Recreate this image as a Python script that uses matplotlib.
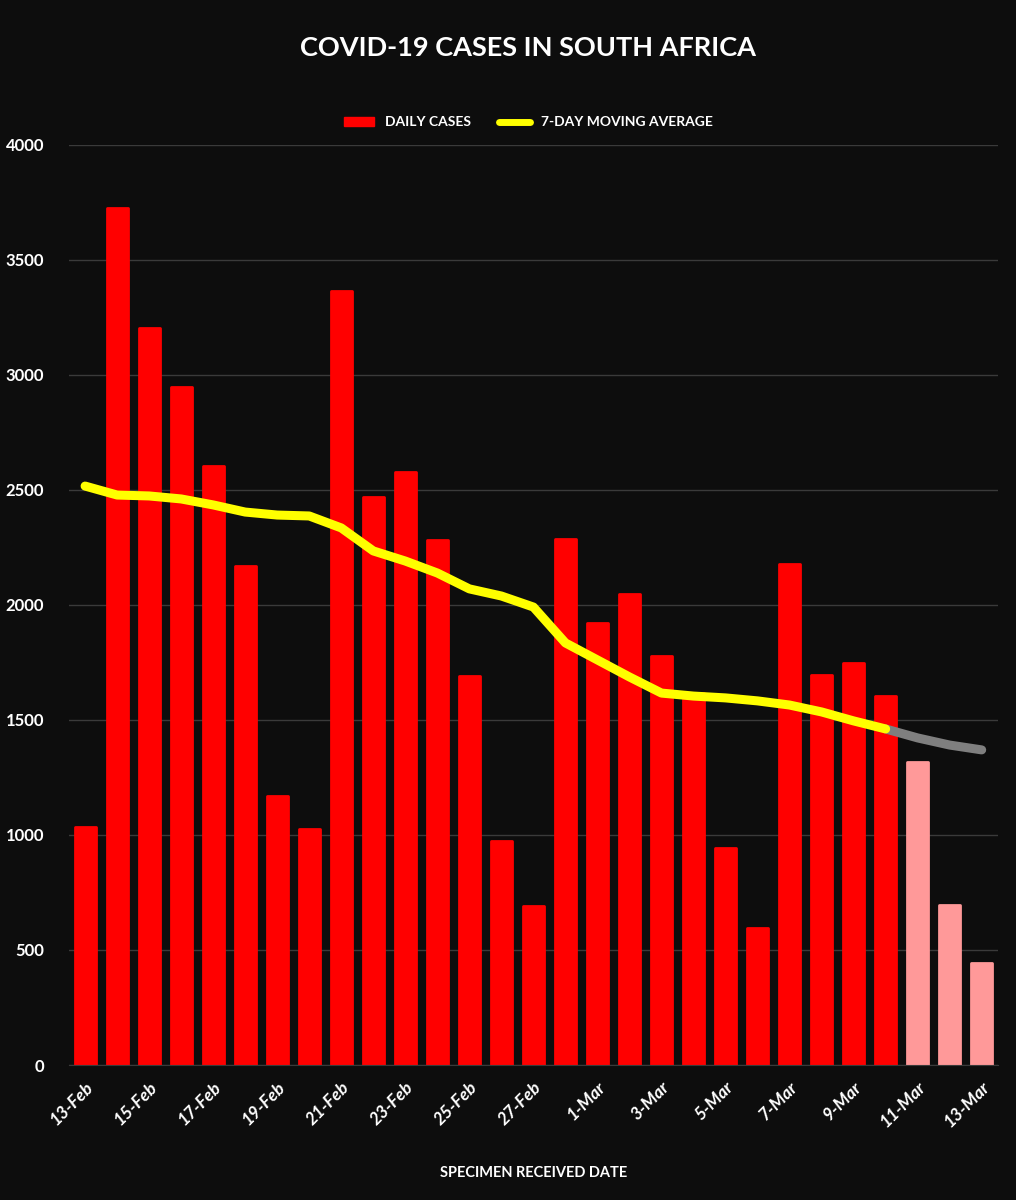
import numpy as np
import matplotlib.pyplot as plt
from matplotlib.lines import Line2D
from matplotlib.patches import Patch

plt.rcParams['font.family'] = ['Lato', 'DejaVu Sans']
plt.rcParams['font.weight'] = 'bold'

dates = ['13-Feb', '14-Feb', '15-Feb', '16-Feb', '17-Feb', '18-Feb', '19-Feb', '20-Feb',
         '21-Feb', '22-Feb', '23-Feb', '24-Feb', '25-Feb', '26-Feb', '27-Feb', '28-Feb',
         '1-Mar', '2-Mar', '3-Mar', '4-Mar', '5-Mar', '6-Mar', '7-Mar', '8-Mar',
         '9-Mar', '10-Mar', '11-Mar', '12-Mar', '13-Mar']
daily_cases = [1035, 3726, 3204, 2948, 2604, 2170, 1170, 1026,
               3365, 2470, 2578, 2283, 1691, 974, 691, 2287,
               1922, 2048, 1778, 1617, 943, 596, 2178, 1696,
               1748, 1604, 1317, 696, 443]
moving_avg = [2517, 2478, 2474, 2461, 2435, 2404, 2391, 2387,
              2335, 2235, 2191, 2139, 2070, 2039, 1991, 1835,
              1761, 1687, 1617, 1604, 1596, 1583, 1565, 1535,
              1496, 1461, 1422, 1391, 1370]
n_complete = 26  # last three days are incomplete

bg = '#0d0d0d'
fig = plt.figure(figsize=(10.16, 12), dpi=100, facecolor=bg)
ax = fig.add_axes([0.068, 0.1125, 0.914, 0.7667], facecolor=bg)

x = np.arange(len(dates))
colors = ['#ff0000'] * n_complete + ['#ff9999'] * (len(dates) - n_complete)
ax.bar(x, daily_cases, width=0.66, color=colors, edgecolor=colors,
       linewidth=2, joinstyle='round', zorder=2)

ax.plot(x[:n_complete], moving_avg[:n_complete], color='#ffff00', lw=6.5,
        solid_capstyle='round', solid_joinstyle='round', zorder=4)
ax.plot(x[n_complete - 1:], moving_avg[n_complete - 1:], color='#7f7f7f', lw=6.5,
        solid_capstyle='round', solid_joinstyle='round', zorder=3)

ax.set_xlim(-0.5, len(dates) - 0.5)
ax.set_ylim(0, 4000)
ax.set_yticks(range(0, 4001, 500))
ax.yaxis.grid(True, color='#3a3a3a', lw=1)
ax.set_axisbelow(True)
for s in ['top', 'right', 'left']:
    ax.spines[s].set_visible(False)
ax.spines['bottom'].set_color('#3a3a3a')
ax.tick_params(axis='both', length=0, colors='white', labelsize=12)
ax.tick_params(axis='y', pad=18)
ax.set_xticks(x[::2])
ax.set_xticklabels(dates[::2], rotation=45, ha='right', va='top',
                   rotation_mode='anchor', style='italic', fontsize=12.5)
ax.tick_params(axis='x', pad=10)

ax.set_xlabel('SPECIMEN RECEIVED DATE', color='white', fontsize=10.5,
              fontweight='bold', labelpad=26)
fig.text(0.52, 0.96, 'COVID-19 CASES IN SOUTH AFRICA', color='white',
         fontsize=19.5, ha='center', va='center')

handles = [Patch(facecolor='#ff0000', edgecolor='#ff0000'),
           Line2D([0], [0], color='#ffff00', lw=5, solid_capstyle='round')]
leg = fig.legend(handles, ['DAILY CASES', '7-DAY MOVING AVERAGE'], loc='center',
                 bbox_to_anchor=(0.52, 0.898), ncol=2, frameon=False,
                 fontsize=10, labelcolor='white', handlelength=2.2, columnspacing=2)

fig.savefig('out.png', dpi=100, facecolor=bg)
